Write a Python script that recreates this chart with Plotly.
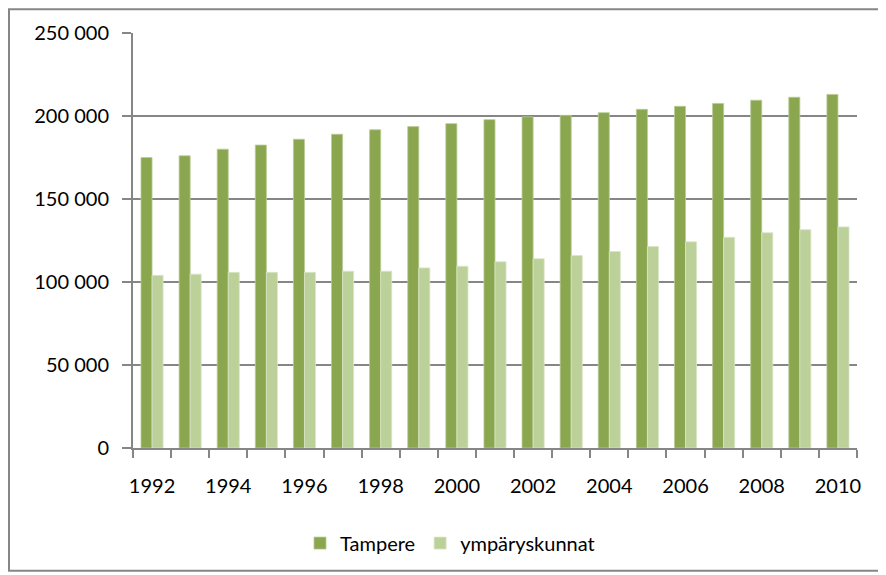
import plotly.graph_objects as go

years = list(range(1992, 2011))
tampere = [175000, 176000, 180000, 182500, 186000, 189000, 191700, 193600, 195400, 197800,
           199500, 200400, 202000, 204000, 205800, 207600, 209500, 211300, 213000]
ymparyskunnat = [104000, 104700, 105800, 105800, 105800, 106500, 106500, 108500, 109500, 112200,
                 114000, 115900, 118400, 121400, 124200, 126900, 129700, 131500, 133200]
xtick_years = list(range(1992, 2011, 2))
series_names = ["Tampere", "ympäryskunnat"]

FONT = "Lato, 'Open Sans', sans-serif"
GRAY = "#868686"

fig = go.Figure()
fig.add_trace(go.Bar(x=years, y=tampere, name=series_names[0],
                     marker=dict(color="#8aa64f", line=dict(color="#b9cc95", width=0.8))))
fig.add_trace(go.Bar(x=years, y=ymparyskunnat, name=series_names[1],
                     marker=dict(color="#bcd09a", line=dict(color="#dae6c6", width=0.8))))

# page body has an 8px margin; positions below are window pixels minus that offset
OFF = 8
L, R, T, B = 133 - OFF, 857 - OFF, 29 - OFF, 448 - OFF
W, H = 886 - OFF, 575 - OFF
pw, ph = R - L, B - T

def px_x(x):
    return (x - OFF - L) / pw

def px_y(y):
    return (B - (y - OFF)) / ph

fig.update_layout(
    width=W, height=H,
    margin=dict(l=L, r=W - R, t=T, b=H - B),
    paper_bgcolor="white", plot_bgcolor="white",
    barmode="group", bargap=0.42, bargroupgap=0,
    separators=", ",
    font=dict(family=FONT, size=20, color="black"),
    showlegend=True,
    legend=dict(orientation="h", x=px_x(450), xanchor="center", y=px_y(544), yanchor="middle",
                font=dict(size=20), itemwidth=30, traceorder="normal"),
    xaxis=dict(range=[1991.5, 2010.5], tickmode="array", tickvals=xtick_years,
               ticktext=[str(y) for y in xtick_years], ticks="", showgrid=False,
               showline=True, linecolor=GRAY, linewidth=2, zeroline=False,
               ticklabelstandoff=19,
               minor=dict(tickmode="array", tickvals=[y - 0.5 for y in years] + [2010.5],
                          ticks="outside", ticklen=8, tickwidth=2, tickcolor=GRAY, showgrid=False)),
    yaxis=dict(range=[0, 250000], tickmode="linear", tick0=0, dtick=50000, tickformat=",d",
               showgrid=True, gridcolor=GRAY, gridwidth=2,
               showline=True, linecolor=GRAY, linewidth=2, zeroline=False,
               ticks="outside", ticklen=9, tickwidth=2, tickcolor=GRAY,
               ticklabelstandoff=9),
    shapes=[dict(type="rect", xref="paper", yref="paper",
                 x0=px_x(9), x1=px_x(883), y0=px_y(572), y1=px_y(5),
                 line=dict(color=GRAY, width=2), fillcolor="rgba(0,0,0,0)", layer="below")],
)

fig.write_html("out.html")
